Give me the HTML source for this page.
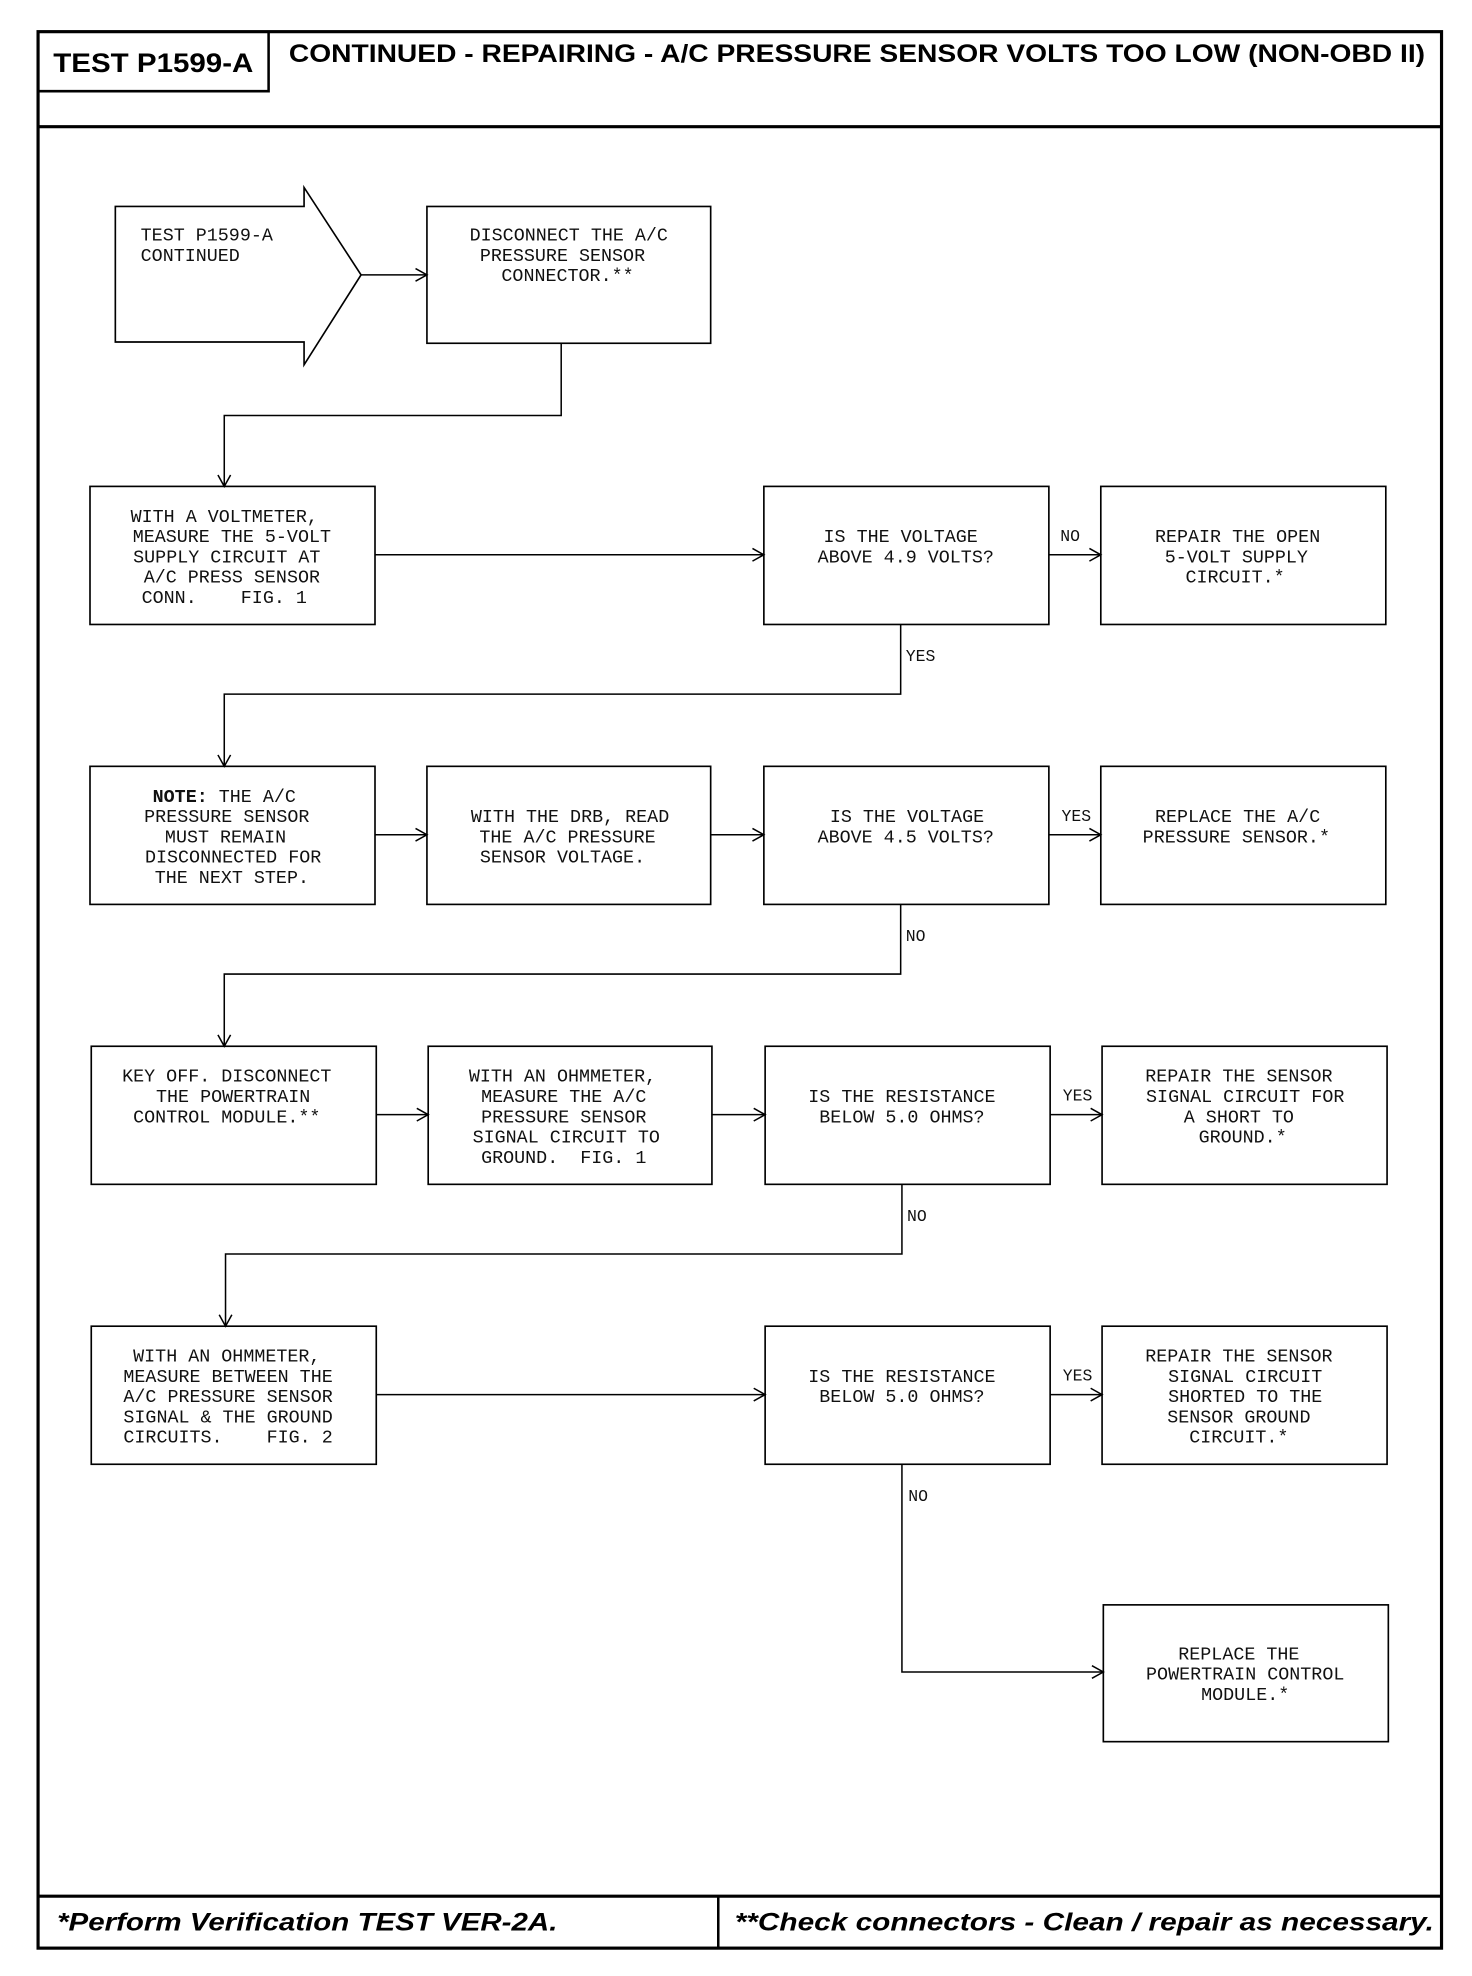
<!DOCTYPE html>
<html><head><meta charset="utf-8"><style>
html,body{margin:0;padding:0;background:#fff;}
svg{display:block;}
.m{font-family:"Liberation Mono",monospace;font-size:14.5px;fill:#111;white-space:pre;}
.h{font-family:"Liberation Sans",sans-serif;font-weight:bold;fill:#000;}
</style></head><body>
<svg width="1472" height="1976" viewBox="0 0 1162 1560" xmlns="http://www.w3.org/2000/svg">
<defs><marker id="a" markerWidth="12" markerHeight="12" refX="10" refY="6" orient="auto" markerUnits="userSpaceOnUse"><path d="M1,1 L10,6 L1,11" fill="none" stroke="#000" stroke-width="1.2"/></marker></defs>
<g fill="none" stroke="#000">
<rect x="30" y="25" width="1108" height="1513" stroke-width="2.5"/>
<line x1="30" y1="100" x2="1138" y2="100" stroke-width="2.5"/>
<polyline points="30,72 212,72 212,25" stroke-width="2"/>
<line x1="30" y1="1497" x2="1138" y2="1497" stroke-width="2.5"/>
<line x1="567" y1="1497" x2="567" y2="1538" stroke-width="2"/>
</g>
<text class="h" x="42" y="57" font-size="21" textLength="158" lengthAdjust="spacingAndGlyphs">TEST P1599-A</text>
<text class="h" x="228" y="49" font-size="20" textLength="897" lengthAdjust="spacingAndGlyphs">CONTINUED - REPAIRING - A/C PRESSURE SENSOR VOLTS TOO LOW (NON-OBD II)</text>
<text class="h" x="45" y="1524" font-size="20" font-style="italic" textLength="395" lengthAdjust="spacingAndGlyphs">*Perform Verification TEST VER-2A.</text>
<text class="h" x="580" y="1524" font-size="20" font-style="italic" textLength="552" lengthAdjust="spacingAndGlyphs">**Check connectors - Clean / repair as necessary.</text>

<g fill="none" stroke="#000" stroke-width="1.3">
<polygon points="91,163 240,163 240,148 285,217 240,288 240,270 91,270"/>
<rect x="337" y="163" width="224" height="108"/>
<rect x="71" y="384" width="225" height="109"/>
<rect x="603" y="384" width="225" height="109"/>
<rect x="869" y="384" width="225" height="109"/>
<rect x="71" y="605" width="225" height="109"/>
<rect x="337" y="605" width="224" height="109"/>
<rect x="603" y="605" width="225" height="109"/>
<rect x="869" y="605" width="225" height="109"/>
<rect x="72" y="826" width="225" height="109"/>
<rect x="338" y="826" width="224" height="109"/>
<rect x="604" y="826" width="225" height="109"/>
<rect x="870" y="826" width="225" height="109"/>
<rect x="72" y="1047" width="225" height="109"/>
<rect x="604" y="1047" width="225" height="109"/>
<rect x="870" y="1047" width="225" height="109"/>
<rect x="871" y="1267" width="225" height="108"/>
</g>
<g fill="none" stroke="#000" stroke-width="1.2" marker-end="url(#a)">
<line x1="285" y1="217" x2="337" y2="217"/>
<polyline points="443,271 443,328 177,328 177,384"/>
<line x1="296" y1="438" x2="603" y2="438"/>
<line x1="828" y1="438" x2="869" y2="438"/>
<polyline points="711,493 711,548 177,548 177,605"/>
<line x1="296" y1="659" x2="337" y2="659"/>
<line x1="561" y1="659" x2="603" y2="659"/>
<line x1="828" y1="659" x2="869" y2="659"/>
<polyline points="711,714 711,769 177,769 177,826"/>
<line x1="297" y1="880" x2="338" y2="880"/>
<line x1="562" y1="880" x2="604" y2="880"/>
<line x1="829" y1="880" x2="870" y2="880"/>
<polyline points="712,935 712,990 178,990 178,1047"/>
<line x1="297" y1="1101" x2="604" y2="1101"/>
<line x1="829" y1="1101" x2="870" y2="1101"/>
<polyline points="712,1156 712,1320 871,1320"/>
</g>

<g class="m">
<text x="111" y="190">TEST P1599-A</text>
<text x="111" y="206">CONTINUED</text>
<text x="837" y="427" font-size="13">NO</text>
<text x="715" y="522" font-size="13">YES</text>
<text x="838" y="648" font-size="13">YES</text>
<text x="715" y="743" font-size="13">NO</text>
<text x="839" y="869" font-size="13">YES</text>
<text x="716" y="964" font-size="13">NO</text>
<text x="839" y="1090" font-size="13">YES</text>
<text x="717" y="1185" font-size="13">NO</text>
</g>
<g class="m" text-anchor="middle">
<text x="449" y="190">DISCONNECT THE A/C</text>
<text x="444" y="206">PRESSURE SENSOR</text>
<text x="448" y="222">CONNECTOR.**</text>

<text x="177" y="412">WITH A VOLTMETER,</text>
<text x="183" y="428">MEASURE THE 5-VOLT</text>
<text x="179" y="444">SUPPLY CIRCUIT AT</text>
<text x="183" y="460">A/C PRESS SENSOR</text>
<text x="177" y="476">CONN.&#160;&#160;&#160;&#160;FIG. 1</text>
<text x="711" y="428">IS THE VOLTAGE</text>
<text x="715" y="444">ABOVE 4.9 VOLTS?</text>
<text x="977" y="428">REPAIR THE OPEN</text>
<text x="976" y="444">5-VOLT SUPPLY</text>
<text x="975" y="460">CIRCUIT.*</text>

<text x="177" y="633"><tspan font-weight="bold">NOTE:</tspan> THE A/C</text>
<text x="179" y="649">PRESSURE SENSOR</text>
<text x="178" y="665">MUST REMAIN</text>
<text x="184" y="681">DISCONNECTED FOR</text>
<text x="183" y="697">THE NEXT STEP.</text>
<text x="450" y="649">WITH THE DRB, READ</text>
<text x="448" y="665">THE A/C PRESSURE</text>
<text x="444" y="681">SENSOR VOLTAGE.</text>
<text x="716" y="649">IS THE VOLTAGE</text>
<text x="715" y="665">ABOVE 4.5 VOLTS?</text>
<text x="977" y="649">REPLACE THE A/C</text>
<text x="976" y="665">PRESSURE SENSOR.*</text>

<text x="179" y="854">KEY OFF. DISCONNECT</text>
<text x="184" y="870">THE POWERTRAIN</text>
<text x="179" y="886">CONTROL MODULE.**</text>
<text x="444" y="854">WITH AN OHMMETER,</text>
<text x="445" y="870">MEASURE THE A/C</text>
<text x="445" y="886">PRESSURE SENSOR</text>
<text x="447" y="902">SIGNAL CIRCUIT TO</text>
<text x="445" y="918">GROUND.&#160;&#160;FIG. 1</text>
<text x="712" y="870">IS THE RESISTANCE</text>
<text x="712" y="886">BELOW 5.0 OHMS?</text>
<text x="978" y="854">REPAIR THE SENSOR</text>
<text x="983" y="870">SIGNAL CIRCUIT FOR</text>
<text x="978" y="886">A SHORT TO</text>
<text x="981" y="902">GROUND.*</text>

<text x="179" y="1075">WITH AN OHMMETER,</text>
<text x="180" y="1091">MEASURE BETWEEN THE</text>
<text x="180" y="1107">A/C PRESSURE SENSOR</text>
<text x="180" y="1123">SIGNAL &amp; THE GROUND</text>
<text x="180" y="1139">CIRCUITS.&#160;&#160;&#160;&#160;FIG. 2</text>
<text x="712" y="1091">IS THE RESISTANCE</text>
<text x="712" y="1107">BELOW 5.0 OHMS?</text>
<text x="978" y="1075">REPAIR THE SENSOR</text>
<text x="983" y="1091">SIGNAL CIRCUIT</text>
<text x="983" y="1107">SHORTED TO THE</text>
<text x="978" y="1123">SENSOR GROUND</text>
<text x="978" y="1139">CIRCUIT.*</text>

<text x="978" y="1310">REPLACE THE</text>
<text x="983" y="1326">POWERTRAIN CONTROL</text>
<text x="983" y="1342">MODULE.*</text>
</g>
</svg>
</body></html>
